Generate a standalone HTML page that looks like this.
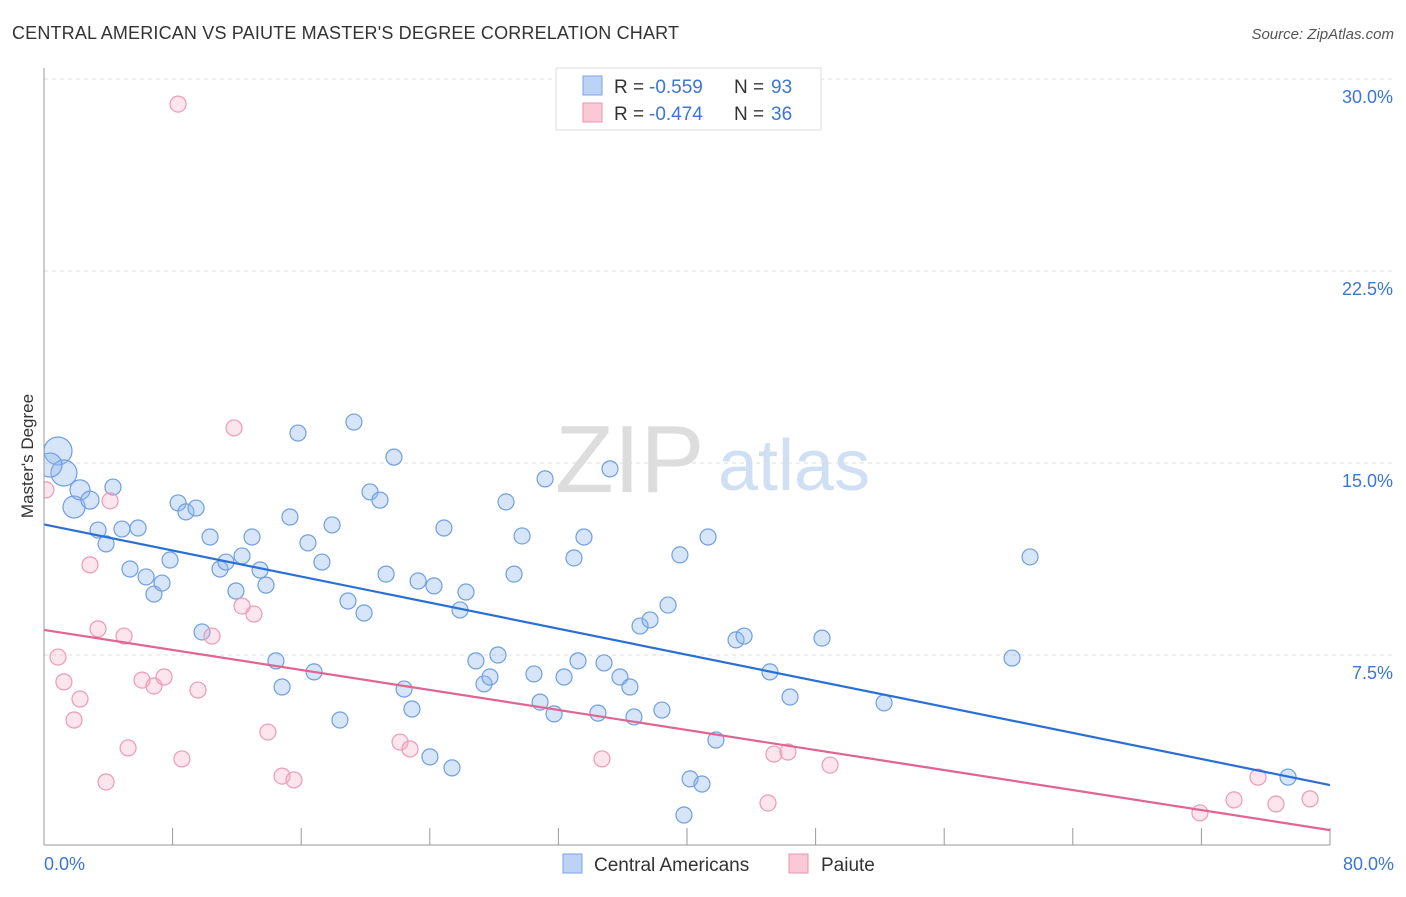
<!DOCTYPE html>
<html><head><meta charset="utf-8"><style>
body{margin:0;background:#fff;font-family:"Liberation Sans",sans-serif}
svg text{font-family:"Liberation Sans",sans-serif}
</style></head><body>
<svg id="c" width="1406" height="892" xmlns="http://www.w3.org/2000/svg">
<defs><clipPath id="plot"><rect x="44" y="60" width="1360" height="786"/></clipPath></defs>
<text x="12" y="39" font-size="18" fill="#333" textLength="667">CENTRAL AMERICAN VS PAIUTE MASTER'S DEGREE CORRELATION CHART</text>
<text x="1394" y="39" font-size="15" fill="#555" text-anchor="end" font-style="italic">Source: ZipAtlas.com</text>
<g><text x="555" y="492" font-size="96" fill="#ddd" font-family="Liberation Serif" >ZIP</text><text x="718" y="490" font-size="72" fill="#cfe0f5">atlas</text></g>
<g id="grid"></g><g id="pts" clip-path="url(#plot)"></g><g id="lines"></g>
<line x1="44" y1="68" x2="44" y2="845" stroke="#999"/>
<line x1="44" y1="845" x2="1330" y2="845" stroke="#999"/>
<text transform="translate(33,456) rotate(-90)" font-size="17" fill="#333" text-anchor="middle">Master's Degree</text>
<text x="44" y="870" font-size="18" fill="#3b76d6">0.0%</text>
<text x="1394" y="870" font-size="18" fill="#3b76d6" text-anchor="end">80.0%</text>
<g>
<rect x="556" y="68" width="265" height="62" fill="#fff" stroke="#ddd"/>
<rect x="583" y="76" width="19" height="19" fill="#bcd3f5" stroke="#7aa3e6"/>
<rect x="583" y="103" width="19" height="19" fill="#f9c9d8" stroke="#ec93b0"/>
<text x="614" y="93" font-size="19" fill="#333">R =</text>
<text x="649" y="93" font-size="19" fill="#3b76d6">-0.559</text>
<text x="734" y="93" font-size="19" fill="#333">N =</text>
<text x="771" y="93" font-size="19" fill="#3b76d6">93</text>
<text x="614" y="120" font-size="19" fill="#333">R =</text>
<text x="649" y="120" font-size="19" fill="#3b76d6">-0.474</text>
<text x="734" y="120" font-size="19" fill="#333">N =</text>
<text x="771" y="120" font-size="19" fill="#3b76d6">36</text>
</g>
<g>
<rect x="563" y="854" width="19" height="19" fill="#bcd3f5" stroke="#7aa3e6"/>
<text x="594" y="871" font-size="19" fill="#333">Central Americans</text>
<rect x="789" y="854" width="19" height="19" fill="#f9c9d8" stroke="#ec93b0"/>
<text x="821" y="871" font-size="19" fill="#333">Paiute</text>
</g>
</svg>
<script>
const yTicks=[7.5,15,22.5,30];
const yTickLabels=["7.5%","15.0%","22.5%","30.0%"];
const xTicks=[8,16,24,32,40,48,56,64,72,80];
const blueX=[0.87,1.24,0.37,1.87,2.24,2.86,4.29,3.36,3.86,4.85,5.85,5.35,6.35,6.84,7.34,7.84,8.34,8.83,9.46,10.33,10.95,11.32,11.94,12.32,12.94,13.44,13.81,9.83,14.43,14.81,15.30,15.80,16.42,16.80,17.29,17.92,18.41,18.91,19.28,19.91,20.28,20.90,21.28,21.77,22.40,22.89,23.27,24.01,24.26,24.88,25.38,25.88,26.25,26.87,27.37,27.74,28.24,28.74,29.24,29.74,30.48,30.86,31.17,31.73,32.35,32.97,33.22,33.59,34.46,34.84,35.21,35.83,36.45,36.70,37.08,37.70,38.44,38.82,39.56,39.81,40.19,40.93,41.31,41.80,43.05,43.55,45.16,46.41,48.40,52.26,60.22,61.34,77.39];
const blueY=[15.47,14.61,14.92,13.28,13.95,13.55,14.06,12.38,11.84,12.42,12.46,10.86,10.55,9.88,10.31,11.21,13.44,13.09,13.24,12.11,10.86,11.13,10.0,11.37,12.11,10.82,10.23,8.40,7.27,6.25,12.89,16.17,11.88,6.84,11.13,12.58,4.96,9.61,16.60,9.14,13.87,13.55,10.66,15.23,6.17,5.39,10.39,3.52,10.20,12.46,3.09,9.26,9.96,7.27,6.37,6.64,7.5,13.48,10.66,12.15,6.76,5.66,14.38,5.20,6.64,11.29,7.27,12.11,5.23,7.19,14.77,6.64,6.25,5.08,8.63,8.87,5.35,9.45,11.41,1.25,2.66,2.46,12.11,4.18,8.09,8.24,6.84,5.86,8.16,5.63,7.38,11.33,2.73];
const blueSize=[14,13,12,11,10,9];
const pinkX=[8.34,0.12,4.11,11.82,2.86,3.36,4.98,0.87,1.24,2.24,1.87,5.23,3.86,6.10,6.84,7.47,9.58,8.58,10.45,12.32,13.06,13.93,14.81,15.55,22.15,22.77,34.71,45.04,45.41,46.28,48.90,71.91,74.03,75.52,76.64,78.76];
const pinkY=[29.02,13.95,13.52,16.37,11.02,8.52,8.24,7.42,6.45,5.78,4.96,3.87,2.54,6.52,6.29,6.64,6.13,3.44,8.24,9.41,9.10,4.49,2.77,2.62,4.10,3.83,3.44,1.72,3.63,3.71,3.20,1.33,1.84,2.73,1.68,1.88];
const blueTrend=[12.6,2.42];
const pinkTrend=[8.48,0.66];
const NS="http://www.w3.org/2000/svg";
const X=v=>44+v/80*1286, Y=v=>847-v*25.6;
function mk(t,a,p){const e=document.createElementNS(NS,t);for(const k in a)e.setAttribute(k,a[k]);p.appendChild(e);return e;}
const grid=document.getElementById('grid');
yTicks.forEach((t,i)=>{
 const l=mk('line',{x1:44,x2:1394,y1:Y(t),y2:Y(t),stroke:'#ddd','stroke-dasharray':'4 4'},grid);
 
 
 const tx=mk('text',{x:1393,y:Y(t)+24,'font-size':18,fill:'#3b76d6','text-anchor':'end'},grid);
 tx.textContent=yTickLabels[i];
 
 
});
xTicks.forEach(t=>{
 const l=mk('line',{x1:X(t),x2:X(t),y1:828,y2:845,stroke:'#999'},grid);
 
 
});
const pts=document.getElementById('pts');
blueX.forEach((x,i)=>{
 const c=mk('circle',{cx:X(x),cy:Y(blueY[i]),r:blueSize[i]||8,fill:'rgba(140,180,235,0.35)',stroke:'#6f9fe0','stroke-width':1.2},pts);
 
 
});
pinkX.forEach((x,i)=>{
 const c=mk('circle',{cx:X(x),cy:Y(pinkY[i]),r:8,fill:'rgba(245,170,195,0.3)',stroke:'#ec9ab5','stroke-width':1.2},pts);
 
 
});
const lines=document.getElementById('lines');
const bl=mk('line',{x1:X(0),y1:Y(blueTrend[0]),x2:X(80),y2:Y(blueTrend[1]),stroke:'#2a6fd6','stroke-width':2.2},lines);


const pl=mk('line',{x1:X(0),y1:Y(pinkTrend[0]),x2:X(80),y2:Y(pinkTrend[1]),stroke:'#e06592','stroke-width':2.2},lines);


</script>
</body></html>
